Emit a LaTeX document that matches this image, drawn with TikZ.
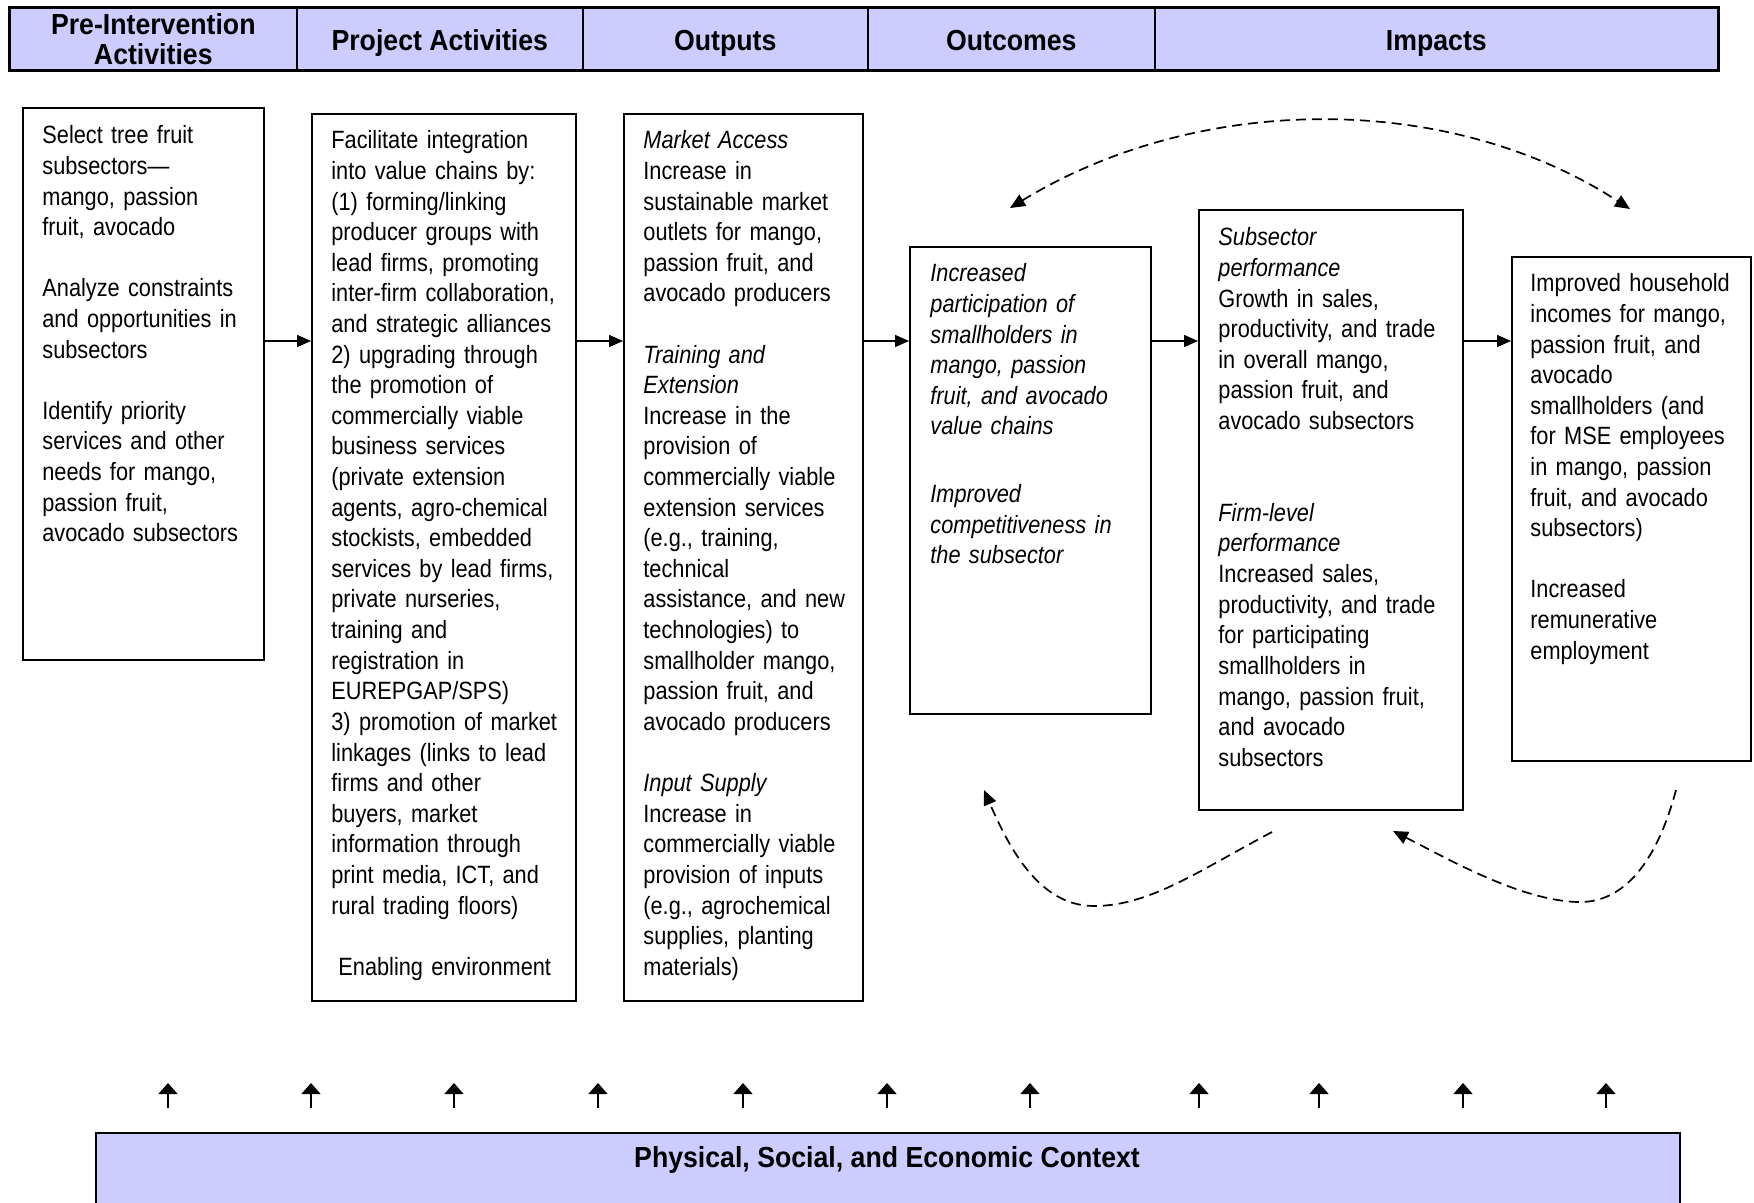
\documentclass[tikz,border=0pt]{standalone}
\usepackage{fontspec}
\setmainfont{Liberation Sans}[FakeStretch=0.87]
\newfontfamily\hdfont{Liberation Sans}[FakeStretch=0.92]
\usetikzlibrary{arrows.meta}
\definecolor{hdfill}{RGB}{204,204,255}
\newcommand{\mygap}{\\[15.3pt]}
\tikzset{
  hcell/.style={draw, line width=0.8pt, fill=hdfill, inner sep=0pt, anchor=north west,
    font=\hdfont\bfseries\fontsize{14.5}{15.1}\selectfont, align=center},
  hone/.style={hcell, text height=13pt, text depth=1.5pt},
  box/.style={draw, line width=1pt, inner sep=0pt, anchor=north west},
  txt/.style={anchor=base west, inner sep=0pt, text width=200pt, align=left,
    font=\fontsize{12.5}{15.3}\selectfont},
  flow/.style={line width=0.75pt, -{Triangle[length=7pt,width=6pt]}},
  upar/.style={line width=0.7pt, -{Triangle[length=5.5pt,width=9.5pt]}},
  fb/.style={dash pattern=on 5pt off 3pt, line width=0.85pt},
  fbboth/.style={{Triangle[length=7.5pt,width=6.5pt]}-{Triangle[length=7.5pt,width=6.5pt]}},
  fbend/.style={-{Triangle[length=7.5pt,width=6.5pt]}},
}
\begin{document}
\begin{tikzpicture}[x=0.5pt,y=-0.5pt]
\useasboundingbox (0,0) rectangle (1754,1203);
\clip (0,0) rectangle (1754,1203);
\fill[white] (0,0) rectangle (1754,1203);

% header row
\node[hcell, minimum width=143.5pt, minimum height=31pt] (h1) at (9,7) {Pre-Intervention\\Activities};
\node[hone, minimum width=143pt, minimum height=31pt] (h2) at (296,7) {Project Activities};
\node[hone, minimum width=142.5pt, minimum height=31pt] (h3) at (582,7) {Outputs};
\node[hone, minimum width=143.5pt, minimum height=31pt] (h4) at (867,7) {Outcomes};
\node[hone, minimum width=281.5pt, minimum height=31pt] (h5) at (1154,7) {Impacts};
\draw[line width=1.4pt] (h1.north west) rectangle (h5.south east);

% boxes
\node[box, minimum width=120.5pt, minimum height=276pt] (b1) at (22,107) {};
\node[box, minimum width=132pt, minimum height=443.5pt] (b2) at (311,113) {};
\node[box, minimum width=119.5pt, minimum height=443.5pt] (b3) at (623,113) {};
\node[box, minimum width=120.5pt, minimum height=233.5pt] (b4) at (909,246) {};
\node[box, minimum width=132pt, minimum height=300pt] (b5) at (1198,209) {};
\node[box, minimum width=119.5pt, minimum height=252pt] (b6) at (1511,256) {};

% texts
\node[txt] (t1) at (42,144) {Select tree fruit\\
subsectors—\\
mango, passion\\
fruit, avocado\mygap
Analyze constraints\\
and opportunities in\\
subsectors\mygap
Identify priority\\
services and other\\
needs for mango,\\
passion fruit,\\
avocado subsectors};

\node[txt] (t2) at (331,149) {Facilitate integration\\
into value chains by:\\
(1) forming/linking\\
producer groups with\\
lead firms, promoting\\
inter-firm collaboration,\\
and strategic alliances\\
2) upgrading through\\
the promotion of\\
commercially viable\\
business services\\
(private extension\\
agents, agro-chemical\\
stockists, embedded\\
services by lead firms,\\
private nurseries,\\
training and\\
registration in\\
EUREPGAP/SPS)\\
3) promotion of market\\
linkages (links to lead\\
firms and other\\
buyers, market\\
information through\\
print media, ICT, and\\
rural trading floors)\mygap
\hspace*{3.5pt}Enabling environment};

\node[txt] (t3) at (643,149) {\textit{Market Access}\\
Increase in\\
sustainable market\\
outlets for mango,\\
passion fruit, and\\
avocado producers\mygap
\textit{Training and}\\
\textit{Extension}\\
Increase in the\\
provision of\\
commercially viable\\
extension services\\
(e.g., training,\\
technical\\
assistance, and new\\
technologies) to\\
smallholder mango,\\
passion fruit, and\\
avocado producers\mygap
\textit{Input Supply}\\
Increase in\\
commercially viable\\
provision of inputs\\
(e.g., agrochemical\\
supplies, planting\\
materials)};

\node[txt, font=\itshape\fontsize{12.5}{15.3}\selectfont] (t4) at (930,282) {Increased\\
participation of\\
smallholders in\\
mango, passion\\
fruit, and avocado\\
value chains\\[18.5pt]
Improved\\
competitiveness in\\
the subsector};

\node[txt] (t5) at (1218,246) {\textit{Subsector}\\
\textit{performance}\\
Growth in sales,\\
productivity, and trade\\
in overall mango,\\
passion fruit, and\\
avocado subsectors\\[30.6pt]
\textit{Firm-level}\\
\textit{performance}\\
Increased sales,\\
productivity, and trade\\
for participating\\
smallholders in\\
mango, passion fruit,\\
and avocado\\
subsectors};

\node[txt] (t6) at (1530,292) {Improved household\\
incomes for mango,\\
passion fruit, and\\
avocado\\
smallholders (and\\
for MSE employees\\
in mango, passion\\
fruit, and avocado\\
subsectors)\mygap
Increased\\
remunerative\\
employment};

% flow arrows
\coordinate (ay) at (0,341);
\draw[flow] (b1.east |- ay) -- (b2.west |- ay);
\draw[flow] (b2.east |- ay) -- (b3.west |- ay);
\draw[flow] (b3.east |- ay) -- (b4.west |- ay);
\draw[flow] (b4.east |- ay) -- (b5.west |- ay);
\draw[flow] (b5.east |- ay) -- (b6.west |- ay);

% feedback dashed arrows
\coordinate (tl) at (1010,208);
\coordinate (tr) at (1630,209);
\draw[fb, fbboth] (tl) .. controls (1200,92) and (1450,92) .. (tr);
\coordinate (ls) at (1272,832);
\coordinate (lm) at (1094,906);
\coordinate (le) at (984,790);
\draw[fb, fbend] (ls) .. controls (1200,870) and (1150,906) .. (lm) .. controls (1040,906) and (1010,850) .. (le);
\coordinate (rs) at (1676,790);
\coordinate (rm) at (1577,902);
\coordinate (re) at (1393,831);
\draw[fb, fbend] (rs) .. controls (1660,850) and (1630,904) .. (rm) .. controls (1520,900) and (1450,860) .. (re);

% context box
\node[draw, line width=1pt, fill=hdfill, inner sep=0pt, anchor=north west,
  minimum width=792pt, minimum height=50pt] (ctx) at (95,1132) {};
\node[font=\hdfont\bfseries\fontsize{14.5}{15.1}\selectfont, inner sep=0pt] (ctxt) at (887,1160) {Physical, Social, and Economic Context};

% up arrows
\foreach \x [count=\i] in {168,311,454,598,743,887,1030,1199,1319,1463,1606} {
  \coordinate (ub\i) at (\x,1108);
  \coordinate (ut\i) at (\x,1083);
  \draw[upar] (ub\i) -- (ut\i);
}
\end{tikzpicture}
\end{document}
